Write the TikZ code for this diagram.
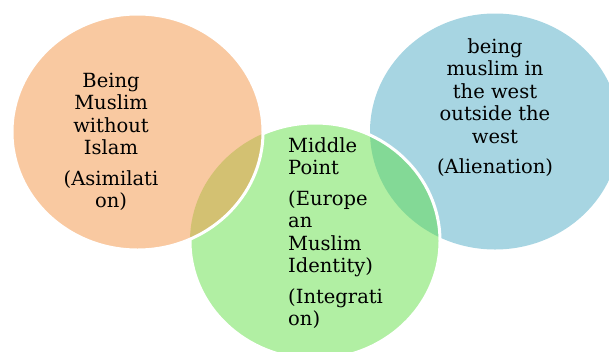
\documentclass[tikz,border=0pt]{standalone}
\usepackage{fontspec}
\setmainfont{DejaVu Serif}
\definecolor{corange}{HTML}{F9C9A1}
\definecolor{cgreen}{HTML}{B1EFA3}
\definecolor{cblue}{HTML}{A7D5E2}
\definecolor{colive}{HTML}{D3C172}
\definecolor{cgb}{HTML}{83D996}
\tikzset{
  ring/.style={draw=white, line width=3pt},
  lbl/.style={inner sep=0pt, font=\fontsize{19.5}{22.5}\selectfont, text=black}
}
\begin{document}
\begin{tikzpicture}[x=1pt,y=-1pt]
\useasboundingbox (0,0) rectangle (609,351);
\coordinate (po) at (137.5,132);
\coordinate (pg) at (315,241);
\coordinate (pb) at (495,131.5);
% blue
\fill[cblue] (pb) ellipse [x radius=125, y radius=118];
% green
\fill[cgreen] (pg) ellipse [x radius=125, y radius=118];
\begin{scope}
  \clip (pg) ellipse [x radius=125, y radius=118];
  \fill[cgb] (pb) ellipse [x radius=125, y radius=118];
\end{scope}
\draw[ring] (pg) ellipse [x radius=125, y radius=118];
% orange
\fill[corange] (po) ellipse [x radius=125.5, y radius=118];
\begin{scope}
  \clip (po) ellipse [x radius=125.5, y radius=118];
  \fill[colive] (pg) ellipse [x radius=125, y radius=118];
\end{scope}
\draw[ring] (po) ellipse [x radius=125.5, y radius=118];
% texts
\node[lbl, anchor=base] (to) at (111,87) {\parbox[t]{130pt}{\centering\fontsize{19.5}{22.5}\selectfont Being\\ Muslim\\ without\\ Islam\\[8pt] (Asimilati\\ on)}};
\node[lbl, anchor=base west] (tg) at (288,152) {\parbox[t]{130pt}{\raggedright\fontsize{19.5}{22.5}\selectfont Middle\\ Point\\[8pt] (Europe\\ an\\ Muslim\\ Identity)\\[8pt] (Integrati\\ on)}};
\node[lbl, anchor=base] (tb) at (495,53) {\parbox[t]{160pt}{\centering\fontsize{19.5}{22.5}\selectfont being\\ muslim in\\ the west\\ outside the\\ west\\[8pt] (Alienation)}};
\end{tikzpicture}
\end{document}
